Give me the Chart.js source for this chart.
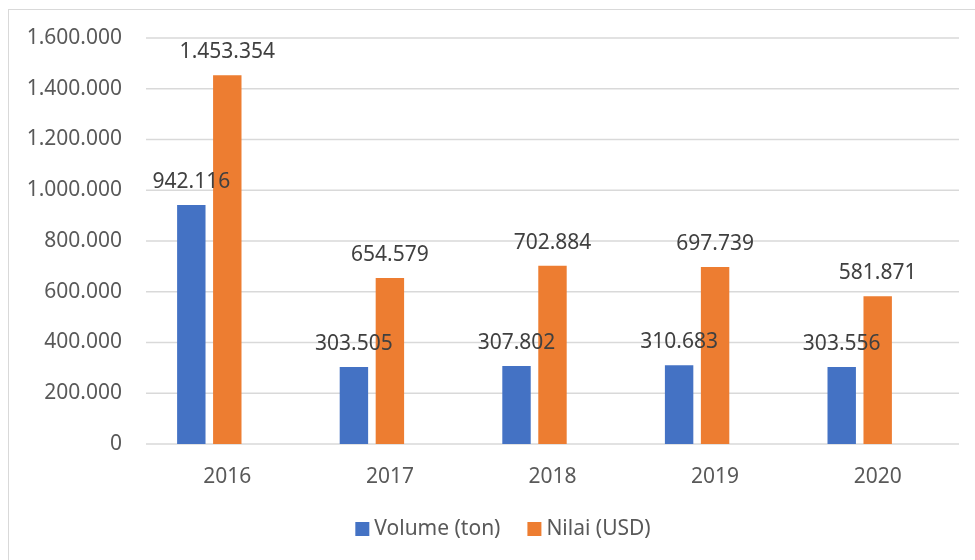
<!DOCTYPE html>
<html>
<head>
<meta charset="utf-8">
<script src="https://cdn.jsdelivr.net/npm/chart.js@4.4.1/dist/chart.umd.min.js"></script>
<style>
  body { margin: 0; background: #fff; }
  #frame { position: absolute; left: 8px; top: 9px; width: 1000px; height: 600px;
           border-top: 1px solid #d9d9d9; border-left: 1px solid #d9d9d9; }
  #wrap { position: absolute; left: 0; top: 0; width: 975px; height: 560px; }
</style>
</head>
<body>
<div id="frame"></div>
<div id="wrap"><canvas id="myChart"></canvas></div>
<script>
// data
const years = ['2016', '2017', '2018', '2019', '2020'];
const volume = [942116, 303505, 307802, 310683, 303556];
const nilai = [1453354, 654579, 702884, 697739, 581871];
const yTicks = [0, 200000, 400000, 600000, 800000, 1000000, 1200000, 1400000, 1600000];

function fmt(v) {
  return String(v).replace(/\B(?=(\d{3})+(?!\d))/g, '.');
}

const font = 'Noto Sans';

// gridlines are shifted right of the bars, like in the original picture
const gridPlugin = {
  id: 'grid',
  beforeDatasetsDraw(chart) {
    const { ctx, chartArea, scales } = chart;
    ctx.save();
    ctx.strokeStyle = '#d9d9d9';
    ctx.lineWidth = 1.3;
    yTicks.forEach(t => {
      const y = scales.y.getPixelForValue(t);
      ctx.beginPath();
      ctx.moveTo(chartArea.left + 18, y);
      ctx.lineTo(chartArea.right + 18, y);
      ctx.stroke();
    });
    ctx.restore();
  }
};

const labelPlugin = {
  id: 'barLabels',
  afterDatasetsDraw(chart) {
    const ctx = chart.ctx;
    ctx.save();
    ctx.font = '21px "' + font + '"';
    ctx.fillStyle = '#404040';
    ctx.textAlign = 'center';
    ctx.textBaseline = 'alphabetic';
    chart.data.datasets.forEach((ds, i) => {
      chart.getDatasetMeta(i).data.forEach((bar, j) => {
        ctx.fillText(fmt(ds.data[j]), bar.x, bar.y - 17);
      });
    });
    ctx.restore();
  }
};

// legend drawn by hand to get the tight box/text gap
const legendPlugin = {
  id: 'bottomLegend',
  afterDraw(chart) {
    const ctx = chart.ctx;
    ctx.save();
    ctx.font = '21px "' + font + '"';
    ctx.textBaseline = 'middle';
    ctx.textAlign = 'left';
    const items = chart.data.datasets.map(ds => ({
      text: ds.label, color: ds.backgroundColor, w: ctx.measureText(ds.label).width
    }));
    const gap = 27;
    let total = items.reduce((a, it) => a + 14 + 5 + it.w, 0) + gap * (items.length - 1);
    let x = 503 - total / 2;
    const cy = 529;
    items.forEach(it => {
      ctx.fillStyle = it.color;
      ctx.fillRect(x, cy - 7, 14, 14);
      ctx.fillStyle = '#595959';
      ctx.fillText(it.text, x + 19, cy);
      x += 14 + 5 + it.w + gap;
    });
    ctx.restore();
  }
};

new Chart(document.getElementById('myChart'), {
  type: 'bar',
  data: {
    labels: years,
    datasets: [
      { label: 'Volume (ton)', data: volume, backgroundColor: '#4472c4' },
      { label: 'Nilai (USD)', data: nilai, backgroundColor: '#ed7d31' }
    ]
  },
  options: {
    responsive: true,
    maintainAspectRatio: false,
    animation: false,
    datasets: { bar: { categoryPercentage: 0.4425, barPercentage: 0.79 } },
    layout: { padding: { left: 0, right: 34, top: 38, bottom: 56 } },
    plugins: {
      tooltip: { enabled: false },
      legend: { display: false }
    },
    scales: {
      x: {
        grid: { display: false },
        border: { display: false },
        ticks: { color: '#595959', font: { family: font, size: 21 }, padding: 12, labelOffset: 18 },
        afterFit(s) { s.height = 60; }
      },
      y: {
        min: 0, max: 1600000,
        grid: { display: false, drawTicks: false },
        border: { display: false },
        afterBuildTicks(s) { s.ticks = yTicks.map(v => ({ value: v })); },
        ticks: { color: '#595959', font: { family: font, size: 21 }, padding: 6, callback: v => fmt(v) },
        afterFit(s) { s.width = 128; }
      }
    }
  },
  plugins: [gridPlugin, labelPlugin, legendPlugin]
});
</script>
</body>
</html>
